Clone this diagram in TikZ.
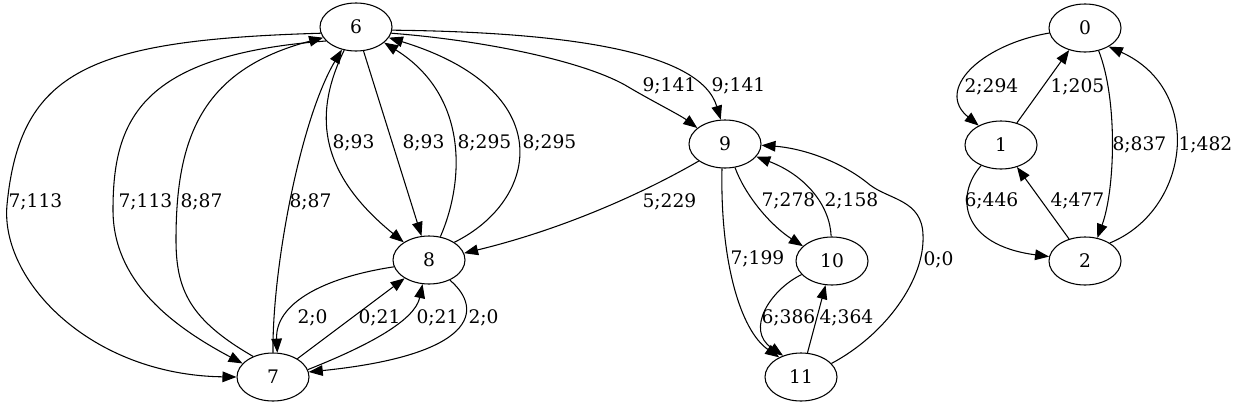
\documentclass[tikz,border=0pt]{standalone}
\usepackage{fontspec}
\setmainfont{DejaVu Serif}
\usetikzlibrary{shapes.geometric,arrows.meta}
\tikzset{
	state/.style = {draw, ellipse, minimum width=54pt, minimum height=36pt, inner sep=0pt},
	lbl/.style   = {anchor=west, inner sep=0pt}
}

\begin{document}
\begin{tikzpicture}[x=0.75pt, y=-0.75pt, >={Triangle[length=10.5pt,width=8pt]}, line width=0.8pt, font=\fontsize{14pt}{17pt}\selectfont]
	\useasboundingbox (0,0) rectangle (1237,407);
	\draw
	node at (356,27)[state] (n6) {6}
	node at (273,377)[state] (n7) {7}
	node at (429,260)[state] (n8) {8}
	node at (725,144)[state] (n9) {9}
	node at (832,261)[state] (n10) {10}
	node at (801,377)[state] (n11) {11}
	node at (1085,28)[state] (n0) {0}
	node at (1001,145)[state] (n1) {1}
	node at (1085,261)[state] (n2) {2};

	% left part
	\draw[->] (n6.190) .. controls (90,40) and (20,70) .. (7,205) .. controls (0,280) and (90,375) .. (n7.180);
	\draw[->] (n6.205) .. controls (140,55) and (113,120) .. (113,210) .. controls (113,280) and (170,325) .. (n7.156);
	\draw[->] (n7.134) .. controls (190,320) and (176,290) .. (176,240) .. controls (176,140) and (200,70) .. (n6.198);
	\draw[->] (n7.90) .. controls (272,270) and (300,120) .. (n6.238);
	\draw[->] (n6.243) .. controls (315,110) and (315,170) .. (n8.145);
	\draw[->] (n6) -- (n8);
	\draw[->] (n8.64) .. controls (465,180) and (468,95) .. (n6.331);
	\draw[->] (n8.35) .. controls (540,200) and (560,90) .. (n6.342);
	\draw[->] (n6.350) .. controls (480,40) and (580,60) .. (625,85) .. controls (650,100) and (680,115) .. (n9.150);
	\draw[->] (n6.355) .. controls (560,32) and (700,50) .. (n9.100);
	\draw[->] (n9.213) .. controls (640,195) and (560,230) .. (n8.11);
	\draw[->] (n8.191) .. controls (320,278) and (275,305) .. (n7.80);
	\draw[->] (n7) -- (n8);
	\draw[->] (n7.12) .. controls (370,345) and (415,320) .. (n8.255);
	\draw[->] (n8.316) .. controls (485,310) and (475,355) .. (n7.8);

	% middle part
	\draw[->] (n9.293) .. controls (745,195) and (770,225) .. (n10.153);
	\draw[->] (n10.92) .. controls (830,205) and (805,175) .. (n9.338);
	\draw[->] (n9.263) .. controls (720,260) and (740,330) .. (n11.138);
	\draw[->] (n10.204) .. controls (770,290) and (745,330) .. (n11.130);
	\draw[->] (n11) -- (n10);
	\draw[->] (n11.24) .. controls (885,335) and (925,280) .. (923,235) .. controls (922,200) and (890,200) .. (870,185) .. controls (840,160) and (800,148) .. (n9.358);

	% right part
	\draw[->] (n0.188) .. controls (980,45) and (935,90) .. (n1.139);
	\draw[->] (n1) -- (n0);
	\draw[->] (n0.301) .. controls (1118,100) and (1115,190) .. (n2.62);
	\draw[->] (n2.36) .. controls (1190,210) and (1205,90) .. (n0.322);
	\draw[->] (n1.226) .. controls (955,195) and (960,245) .. (n2.173);
	\draw[->] (n2) -- (n1);

	\draw
	node at (8,202)[lbl] {7;113}
	node at (118,202)[lbl] {7;113}
	node at (180,202)[lbl] {8;87}
	node at (289,202)[lbl] {8;87}
	node at (332,143)[lbl] {8;93}
	node at (402,143)[lbl] {8;93}
	node at (457,143)[lbl] {8;295}
	node at (522,143)[lbl] {8;295}
	node at (642,86)[lbl] {9;141}
	node at (711,86)[lbl] {9;141}
	node at (642,202)[lbl] {5;229}
	node at (297,318)[lbl] {2;0}
	node at (358,318)[lbl] {0;21}
	node at (416,318)[lbl] {0;21}
	node at (468,318)[lbl] {2;0}
	node at (761,201)[lbl] {7;278}
	node at (824,201)[lbl] {2;158}
	node at (730,259)[lbl] {7;199}
	node at (923,260)[lbl] {0;0}
	node at (761,318)[lbl] {6;386}
	node at (819,318)[lbl] {4;364}
	node at (964,87)[lbl] {2;294}
	node at (1050,87)[lbl] {1;205}
	node at (1112,145)[lbl] {8;837}
	node at (1178,145)[lbl] {1;482}
	node at (964,201)[lbl] {6;446}
	node at (1050,201)[lbl] {4;477};
\end{tikzpicture}
\end{document}
